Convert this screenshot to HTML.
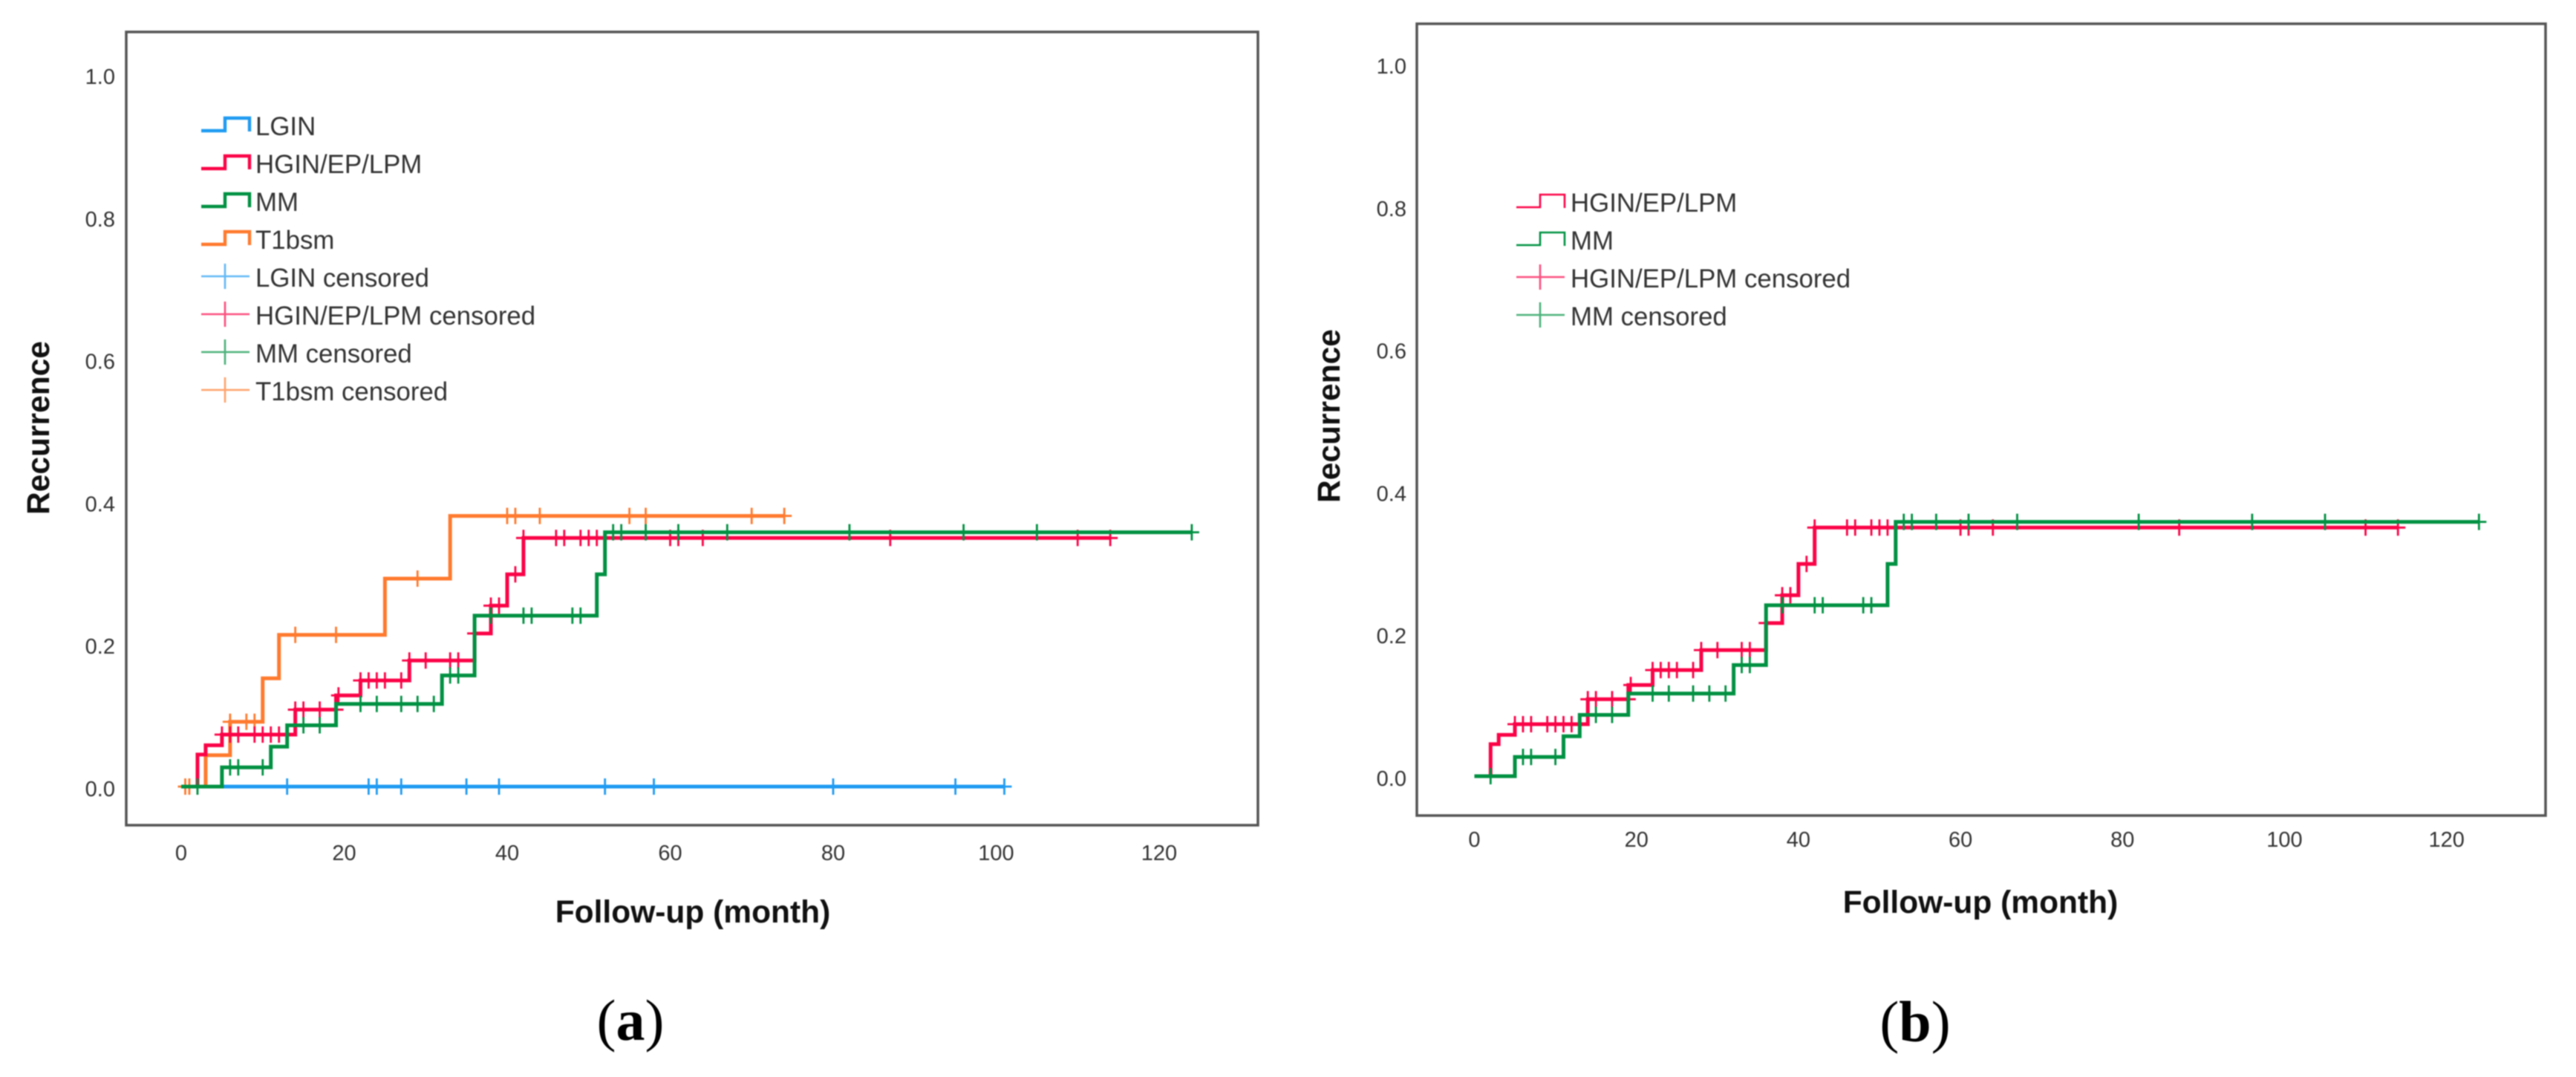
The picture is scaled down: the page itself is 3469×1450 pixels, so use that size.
<!DOCTYPE html>
<html lang="en">
<head>
<meta charset="utf-8">
<title>Recurrence Kaplan-Meier curves</title>
<style>
html,body{margin:0;padding:0;background:#fff;width:3469px;height:1450px;overflow:hidden}
svg{display:block;filter:blur(0.7px)}
text{font-family:"Liberation Sans",sans-serif}
</style>
</head>
<body>
<svg id="figure" xmlns="http://www.w3.org/2000/svg" width="3469" height="1450" viewBox="0 0 3469 1450">
  <rect width="3469" height="1450" fill="#fff"/>
  <g id="panel-a">
    <rect x="170" y="43" width="1524" height="1068" fill="#fff" stroke="#555" stroke-width="3.5"/>
    <text transform="translate(66,576) rotate(-90)" text-anchor="middle" font-size="42.5" font-weight="700" fill="#111">Recurrence</text>
    <text x="933" y="1242" text-anchor="middle" font-size="42.5" font-weight="700" fill="#111">Follow-up (month)</text>
    <text x="849" y="1400" text-anchor="middle" font-size="78" fill="#000" style="font-family:'Liberation Serif',serif">(<tspan font-weight="700">a</tspan>)</text>
  </g>
  <g id="panel-b">
    <rect x="1908" y="32" width="1520" height="1066" fill="#fff" stroke="#555" stroke-width="3.5"/>
    <text transform="translate(1804,560) rotate(-90)" text-anchor="middle" font-size="42.5" font-weight="700" fill="#111">Recurrence</text>
    <text x="2667" y="1229" text-anchor="middle" font-size="42.5" font-weight="700" fill="#111">Follow-up (month)</text>
    <text x="2579" y="1402" text-anchor="middle" font-size="78" fill="#000" style="font-family:'Liberation Serif',serif">(<tspan font-weight="700">b</tspan>)</text>
  </g>
</svg>
<script>
// Axis tick labels
const xTickLabels = [0, 20, 40, 60, 80, 100, 120];
const yTickLabels = [0.0, 0.2, 0.4, 0.6, 0.8, 1.0];

// Panel (a) values
const aLginMonths = [0, 101];
const aLginValues = [0, 0];
const aLginCensored = [13, 23, 24, 27, 35, 39, 52, 58, 80, 95, 101];

const aT1bsmMonths = [0, 3, 6, 10, 12, 25, 33, 74];
const aT1bsmValues = [0, 0.044, 0.091, 0.152, 0.213, 0.292, 0.38, 0.38];
const aT1bsmCensoredMonths = [0.5, 1, 6, 8, 9, 14, 19, 29, 40, 41, 44, 55, 57, 70, 74];
const aT1bsmCensoredValues = [0, 0, 0.091, 0.091, 0.091, 0.213, 0.213, 0.292, 0.38, 0.38, 0.38, 0.38, 0.38, 0.38, 0.38];

const aHginMonths = [0, 2, 3, 5, 14, 19, 22, 28, 36, 38, 40, 42, 114];
const aHginValues = [0, 0.045, 0.058, 0.073, 0.108, 0.128, 0.149, 0.177, 0.215, 0.254, 0.298, 0.349, 0.349];
const aHginCensoredMonths = [5, 6, 7, 9, 10, 11, 12, 13, 14, 15, 17, 19, 19.3, 22, 23, 24, 25, 27, 28, 30, 33, 34, 36, 38, 39, 41, 42, 46, 47, 49, 50, 51, 60, 61, 64, 87, 110, 114];
const aHginCensoredValues = [0.073, 0.073, 0.073, 0.073, 0.073, 0.073, 0.073, 0.073, 0.108, 0.108, 0.108, 0.108, 0.128, 0.149, 0.149, 0.149, 0.149, 0.149, 0.177, 0.177, 0.177, 0.177, 0.215, 0.254, 0.254, 0.298, 0.349, 0.349, 0.349, 0.349, 0.349, 0.349, 0.349, 0.349, 0.349, 0.349, 0.349, 0.349];

const aMmMonths = [0, 5, 11, 13, 19, 32, 36, 51, 52, 124];
const aMmValues = [0, 0.027, 0.056, 0.086, 0.116, 0.156, 0.24, 0.298, 0.357, 0.357];
const aMmCensoredMonths = [2, 6, 7, 10, 15, 17, 22, 24, 27, 29, 31, 33, 34, 38, 42, 43, 48, 49, 53, 54, 57, 61, 67, 82, 96, 105, 124];
const aMmCensoredValues = [0, 0.027, 0.027, 0.027, 0.086, 0.086, 0.116, 0.116, 0.116, 0.116, 0.116, 0.156, 0.156, 0.24, 0.24, 0.24, 0.24, 0.24, 0.357, 0.357, 0.357, 0.357, 0.357, 0.357, 0.357, 0.357, 0.357];

// Panel (b) values
const bHginMonths = [0, 2, 3, 5, 14, 19, 22, 28, 36, 38, 40, 42, 114];
const bHginValues = [0, 0.045, 0.058, 0.073, 0.108, 0.128, 0.149, 0.177, 0.215, 0.254, 0.298, 0.349, 0.349];
const bHginCensoredMonths = [5, 6, 7, 9, 10, 11, 12, 13, 14, 15, 17, 19, 19.3, 22, 23, 24, 25, 27, 28, 30, 33, 34, 36, 38, 39, 41, 42, 46, 47, 49, 50, 51, 60, 61, 64, 87, 110, 114];
const bHginCensoredValues = [0.073, 0.073, 0.073, 0.073, 0.073, 0.073, 0.073, 0.073, 0.108, 0.108, 0.108, 0.108, 0.128, 0.149, 0.149, 0.149, 0.149, 0.149, 0.177, 0.177, 0.177, 0.177, 0.215, 0.254, 0.254, 0.298, 0.349, 0.349, 0.349, 0.349, 0.349, 0.349, 0.349, 0.349, 0.349, 0.349, 0.349, 0.349];

const bMmMonths = [0, 5, 11, 13, 19, 32, 36, 51, 52, 124];
const bMmValues = [0, 0.027, 0.056, 0.086, 0.116, 0.156, 0.24, 0.298, 0.357, 0.357];
const bMmCensoredMonths = [2, 6, 7, 10, 15, 17, 22, 24, 27, 29, 31, 33, 34, 38, 42, 43, 48, 49, 53, 54, 57, 61, 67, 82, 96, 105, 124];
const bMmCensoredValues = [0, 0.027, 0.027, 0.027, 0.086, 0.086, 0.116, 0.116, 0.116, 0.116, 0.116, 0.156, 0.156, 0.24, 0.24, 0.24, 0.24, 0.24, 0.357, 0.357, 0.357, 0.357, 0.357, 0.357, 0.357, 0.357, 0.357];

// Legend labels
const aLegendCurves = ['LGIN', 'HGIN/EP/LPM', 'MM', 'T1bsm'];
const aLegendCensored = ['LGIN censored', 'HGIN/EP/LPM censored', 'MM censored', 'T1bsm censored'];
const bLegendCurves = ['HGIN/EP/LPM', 'MM'];
const bLegendCensored = ['HGIN/EP/LPM censored', 'MM censored'];

const NS = 'http://www.w3.org/2000/svg';
const BLUE = '#1f9bf2', RED = '#fb0347', GREEN = '#009142', ORANGE = '#ff7a2e';

function make(parent, tag, attrs, text) {
  const el = document.createElementNS(NS, tag);
  for (const k in attrs) el.setAttribute(k, attrs[k]);
  if (text !== undefined) el.textContent = text;
  parent.appendChild(el);
  return el;
}

function scaleFn(origin, perUnit) {
  return function (v) { return origin + perUnit * v; };
}

function slug(s) {
  return s.toLowerCase().replace(/[^a-z0-9]+/g, '-');
}

function drawAxes(group, panel, x, y, xLabelY, yLabelX) {
  xTickLabels.forEach(function (t) {
    const el = make(group, 'text', {x: x(t), y: xLabelY, 'text-anchor': 'middle', 'font-size': 29, fill: '#333'}, String(t));
    
    
  });
  yTickLabels.forEach(function (t) {
    const el = make(group, 'text', {x: yLabelX, y: y(t) + 13, 'text-anchor': 'end', 'font-size': 29, fill: '#333'}, t.toFixed(1));
    
    
  });
}

function drawCurve(group, name, months, values, color, x, y) {
  let d = 'M' + x(months[0]) + ' ' + y(values[0]);
  for (let i = 1; i < months.length; i++) {
    d += 'H' + x(months[i]) + 'V' + y(values[i]);
  }
  const path = make(group, 'path', {d: d, fill: 'none', stroke: color, 'stroke-width': 5, 'stroke-linejoin': 'miter'});
  
  
}

function drawCensored(group, name, months, values, color, x, y) {
  months.forEach(function (m, i) {
    const cx = x(m), cy = y(values[i]);
    const mark = make(group, 'path', {
      d: 'M' + (cx - 10) + ' ' + cy + 'H' + (cx + 10) + 'M' + cx + ' ' + (cy - 11) + 'V' + (cy + 11),
      fill: 'none', stroke: color, 'stroke-width': 2.8
    });
    
    
  });
}

function drawLegend(group, panel, left, textX, top, curves, curveColors, censored, censoredColors, weight) {
  let row = 0;
  const step = 51;
  curves.forEach(function (label, i) {
    const cy = top + row * step;
    const handle = make(group, 'path', {
      d: 'M' + left + ' ' + (cy + 6) + 'H' + (left + 32) + 'V' + (cy - 11) + 'H' + (left + 65) + 'V' + (cy + 7),
      fill: 'none', stroke: curveColors[i], 'stroke-width': weight
    });
    
    
    const t = make(group, 'text', {x: textX, y: cy + 12, 'font-size': 34.8, fill: '#333'}, label);
    
    
    row++;
  });
  censored.forEach(function (label, i) {
    const cy = top + row * step;
    const handle = make(group, 'path', {
      d: 'M' + left + ' ' + (cy - 2) + 'H' + (left + 65) + 'M' + (left + 32) + ' ' + (cy - 19) + 'V' + (cy + 15),
      fill: 'none', stroke: censoredColors[i], 'stroke-width': 2.6, 'stroke-opacity': 0.7
    });
    
    
    const t = make(group, 'text', {x: textX, y: cy + 12, 'font-size': 34.8, fill: '#333'}, label);
    
    
    row++;
  });
}

// Panel (a)
const groupA = document.getElementById('panel-a');
const xA = scaleFn(244, 10.975);
const yA = scaleFn(1059, -959);
drawAxes(groupA, 'panel-a', xA, yA, 1158, 155);
drawCurve(groupA, 'lgin', aLginMonths, aLginValues, BLUE, xA, yA);
drawCensored(groupA, 'lgin', aLginCensored, aLginCensored.map(function () { return 0; }), BLUE, xA, yA);
drawCurve(groupA, 't1bsm', aT1bsmMonths, aT1bsmValues, ORANGE, xA, yA);
drawCensored(groupA, 't1bsm', aT1bsmCensoredMonths, aT1bsmCensoredValues, ORANGE, xA, yA);
drawCurve(groupA, 'hgin-ep-lpm', aHginMonths, aHginValues, RED, xA, yA);
drawCensored(groupA, 'hgin-ep-lpm', aHginCensoredMonths, aHginCensoredValues, RED, xA, yA);
drawCurve(groupA, 'mm', aMmMonths, aMmValues, GREEN, xA, yA);
drawCensored(groupA, 'mm', aMmCensoredMonths, aMmCensoredValues, GREEN, xA, yA);
drawLegend(groupA, 'panel-a', 271, 344, 170, aLegendCurves, [BLUE, RED, GREEN, ORANGE], aLegendCensored, [BLUE, RED, GREEN, ORANGE], 4.4);

// Panel (b)
const groupB = document.getElementById('panel-b');
const xB = scaleFn(1985.5, 10.91);
const yB = scaleFn(1045, -959);
drawAxes(groupB, 'panel-b', xB, yB, 1140, 1894);
drawCurve(groupB, 'hgin-ep-lpm', bHginMonths, bHginValues, RED, xB, yB);
drawCensored(groupB, 'hgin-ep-lpm', bHginCensoredMonths, bHginCensoredValues, RED, xB, yB);
drawCurve(groupB, 'mm', bMmMonths, bMmValues, GREEN, xB, yB);
drawCensored(groupB, 'mm', bMmCensoredMonths, bMmCensoredValues, GREEN, xB, yB);
drawLegend(groupB, 'panel-b', 2042, 2115, 273, bLegendCurves, [RED, GREEN], bLegendCensored, [RED, GREEN], 2.6);
</script>
</body>
</html>
